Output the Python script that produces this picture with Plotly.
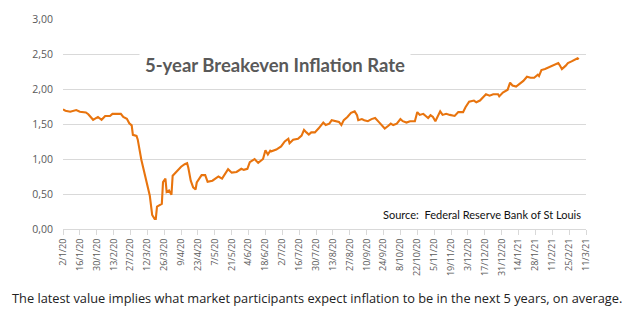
import pandas as pd
import plotly.graph_objects as go

# ---- data ----
start_date = "2020-01-02"
day_offset = [0, 2, 6, 11, 14, 19, 21, 25, 27, 29, 32, 35, 39, 41, 48, 50, 53, 55, 57, 58,
              61, 62, 65, 68, 70, 72, 74, 76, 77, 78, 82, 83, 85, 86, 88, 90, 91, 95, 98, 101,
              103, 104, 106, 108, 110, 111, 113, 115, 118, 120, 124, 126, 129, 132, 135, 137, 140, 144, 148, 150,
              153, 155, 159, 162, 166, 168, 170, 172, 173, 177, 181, 184, 187, 188, 191, 195, 198, 200, 202, 204,
              206, 209, 212, 213, 216, 218, 221, 223, 226, 229, 231, 233, 236, 239, 242, 244, 245, 248, 250, 253,
              256, 259, 262, 264, 267, 270, 272, 274, 277, 280, 282, 285, 288, 292, 294, 296, 299, 301, 303, 305,
              307, 309, 311, 313, 315, 318, 321, 325, 328, 332, 334, 337, 341, 343, 346, 351, 354, 357, 361, 362,
              365, 369, 371, 373, 376, 379, 382, 385, 388, 391, 394, 395, 397, 400, 404, 407, 411, 412, 414, 417,
              419, 422, 424, 427, 428]
rate = [1.71, 1.69, 1.675, 1.70, 1.675, 1.665, 1.64, 1.56, 1.58, 1.60, 1.56, 1.615, 1.615, 1.645, 1.645, 1.60, 1.575, 1.51, 1.48, 1.345,
        1.33, 1.28, 0.99, 0.78, 0.645, 0.48, 0.20, 0.145, 0.145, 0.32, 0.36, 0.67, 0.72, 0.53, 0.55, 0.49, 0.76, 0.83, 0.89, 0.925,
        0.94, 0.875, 0.69, 0.595, 0.565, 0.665, 0.715, 0.77, 0.77, 0.675, 0.69, 0.715, 0.75, 0.72, 0.80, 0.855, 0.805, 0.815, 0.86, 0.845,
        0.86, 0.955, 1.00, 0.945, 1.00, 1.125, 1.065, 1.12, 1.11, 1.135, 1.18, 1.25, 1.29, 1.225, 1.275, 1.29, 1.335, 1.415, 1.38, 1.35,
        1.38, 1.38, 1.435, 1.46, 1.52, 1.485, 1.505, 1.555, 1.54, 1.53, 1.485, 1.555, 1.60, 1.66, 1.68, 1.625, 1.555, 1.57, 1.555, 1.54,
        1.57, 1.585, 1.53, 1.49, 1.435, 1.475, 1.505, 1.485, 1.505, 1.57, 1.54, 1.52, 1.54, 1.54, 1.67, 1.63, 1.645, 1.615, 1.585, 1.625,
        1.60, 1.54, 1.615, 1.68, 1.63, 1.645, 1.63, 1.615, 1.67, 1.67, 1.74, 1.82, 1.835, 1.81, 1.835, 1.925, 1.905, 1.925, 1.925, 1.895,
        1.95, 1.99, 2.09, 2.05, 2.035, 2.08, 2.115, 2.175, 2.16, 2.16, 2.205, 2.185, 2.27, 2.285, 2.315, 2.345, 2.37, 2.345, 2.285, 2.33,
        2.37, 2.395, 2.41, 2.44, 2.425]

x_tick_labels = ["2/1/20", "16/1/20", "30/1/20", "13/2/20", "27/2/20", "12/3/20", "26/3/20", "9/4/20",
                 "23/4/20", "7/5/20", "21/5/20", "4/6/20", "18/6/20", "2/7/20", "16/7/20", "30/7/20",
                 "13/8/20", "27/8/20", "10/9/20", "24/9/20", "8/10/20", "22/10/20", "5/11/20", "19/11/20",
                 "3/12/20", "17/12/20", "31/12/20", "14/1/21", "28/1/21", "11/2/21", "25/2/21", "11/3/21"]
y_tick_values = [0, 0.5, 1.0, 1.5, 2.0, 2.5, 3.0]

title_text = "5-year Breakeven Inflation Rate"
source_text = "Source:  Federal Reserve Bank of St Louis"
caption_text = "The latest value implies what market participants expect inflation to be in the next 5 years, on average."

# ---- build ----
dates = pd.Timestamp(start_date) + pd.to_timedelta(day_offset, unit="D")
tick_dates = pd.to_datetime(x_tick_labels, format="%d/%m/%y")

W, H = 633, 322
L, R, T, B = 62.5, 586.5, 15.0, 229.3


def px(xp):
    return (xp - L) / (R - L)


def py(yp):
    return (B - yp) / (B - T)


fig = go.Figure()
fig.add_trace(go.Scatter(x=dates, y=rate, mode="lines",
                         line=dict(color="#E8740E", width=2.1), hoverinfo="skip"))

fig.update_layout(
    width=W, height=H,
    margin=dict(l=L, r=W - R, t=T, b=H - B, pad=0),
    paper_bgcolor="white", plot_bgcolor="white",
    showlegend=False,
    separators=",.",
    font=dict(family="Open Sans", color="#595959"),
)
fig.update_xaxes(
    type="date",
    range=[tick_dates[0], tick_dates[-1]],
    tickvals=tick_dates, ticktext=x_tick_labels,
    tickangle=-90, tickfont=dict(size=9, color="#595959", family="Open Sans"),
    showgrid=False, zeroline=False,
    showline=True, linecolor="#d9d9d9", linewidth=1,
    ticks="outside", ticklen=5, tickcolor="#d9d9d9", tickwidth=1,
)
fig.update_yaxes(
    range=[0, 3], tickvals=y_tick_values, tickformat=".2f",
    tickfont=dict(size=10.5, color="#595959", family="Open Sans"),
    showgrid=True, gridcolor="#d9d9d9", gridwidth=1,
    zeroline=False, showline=False, ticks="", ticklabelstandoff=9,
)

fig.add_annotation(
    text="<b>" + title_text + "</b>", xref="paper", yref="paper",
    x=px(274.5), y=py(61.5), xanchor="center", yanchor="middle",
    showarrow=False, bgcolor="white", width=264, borderpad=3,
    font=dict(family="Lato", size=18.5, color="#595959"),
)
fig.add_annotation(
    text=source_text, xref="paper", yref="paper",
    x=px(583), y=py(215), xanchor="right", yanchor="middle",
    showarrow=False, font=dict(family="Lato", size=11, color="#111111"),
)
fig.add_annotation(
    text=caption_text, xref="paper", yref="paper",
    x=px(316.5), y=py(300), xanchor="center", yanchor="middle",
    showarrow=False, font=dict(family="Open Sans", size=12.8, color="#222222"),
)

fig.write_html("out.html")
